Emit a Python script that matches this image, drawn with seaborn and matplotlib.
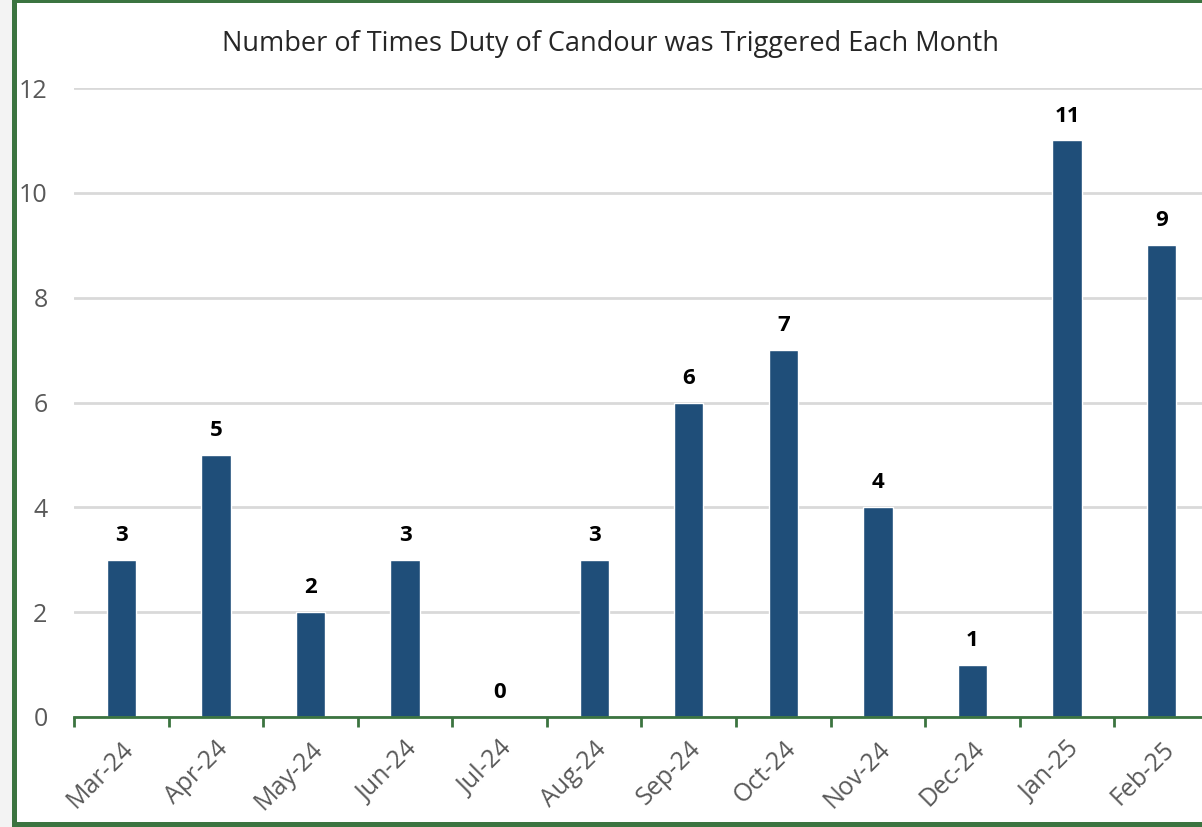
import matplotlib
matplotlib.use("Agg")
import matplotlib.pyplot as plt
import seaborn as sns
import pandas as pd
import numpy as np
from matplotlib.patches import Rectangle

months = ["Mar-24", "Apr-24", "May-24", "Jun-24", "Jul-24", "Aug-24",
          "Sep-24", "Oct-24", "Nov-24", "Dec-24", "Jan-25", "Feb-25"]
counts = [3, 5, 2, 3, 0, 3, 6, 7, 4, 1, 11, 9]
y_ticks = [0, 2, 4, 6, 8, 10, 12]

title = "Number of Times Duty of Candour was Triggered Each Month"

BAR = "#1f4e79"
GREEN = "#3b7440"
GRID = "#d9d9d9"
TICK_TXT = "#595959"

sns.set_theme(style="white")
plt.rcParams["font.family"] = ["Open Sans", "DejaVu Sans"]

df = pd.DataFrame({"month": months, "count": counts})

fig = plt.figure(figsize=(12.02, 8.27), dpi=100)
fig.patch.set_facecolor("white")

# page background strip and green frame
fig.patches.append(Rectangle((0, 0), 12 / 1202, 1, transform=fig.transFigure,
                             facecolor="#f3f3f3", edgecolor="none", zorder=0))
fig.patches.append(Rectangle((12 / 1202, 0), 5 / 1202, 1, transform=fig.transFigure,
                             facecolor=GREEN, edgecolor="none", zorder=1))
fig.patches.append(Rectangle((12 / 1202, 1 - 3 / 827), 1, 3 / 827, transform=fig.transFigure,
                             facecolor=GREEN, edgecolor="none", zorder=1))
fig.patches.append(Rectangle((12 / 1202, 0), 1, 5 / 827, transform=fig.transFigure,
                             facecolor=GREEN, edgecolor="none", zorder=1))

ax = fig.add_axes([74 / 1202, 1 - 717 / 827, (1209 - 74) / 1202, (717 - 88) / 827])
ax.set_facecolor("none")

sns.barplot(data=df, x="month", y="count", color=BAR, width=0.31,
            saturation=1, ax=ax, zorder=3)

ax.set_xlim(-0.5, len(months) - 0.5)
ax.set_ylim(0, 12)
ax.set_yticks(y_ticks)
ax.set_yticklabels([str(t) for t in y_ticks])
ax.yaxis.grid(True, color=GRID, linewidth=2, zorder=0)
ax.set_axisbelow(True)

for s in ["top", "right", "left"]:
    ax.spines[s].set_visible(False)
ax.spines["bottom"].set_color(GREEN)
ax.spines["bottom"].set_linewidth(2)
ax.spines["bottom"].set_zorder(4)

ax.set_xlabel("")
ax.set_ylabel("")

ax.tick_params(axis="y", length=0, pad=19, labelsize=18, labelcolor=TICK_TXT)
ax.tick_params(axis="x", which="major", length=0, pad=14, labelsize=18, labelcolor=TICK_TXT)
# category separators drawn as short green ticks below the axis line
ax.set_xticks(np.arange(-0.5, len(months), 1), minor=True)
ax.tick_params(axis="x", which="minor", bottom=True, length=7, width=2,
               color=GREEN, direction="out")
plt.setp(ax.get_xticklabels(), rotation=45, ha="right", rotation_mode="anchor")

for c in ax.containers:
    ax.bar_label(c, labels=[str(v) for v in counts], padding=10,
                 fontsize=16, fontweight="bold", color="black")

fig.text(611 / 1202, 1 - 44 / 827, title, ha="center", va="center",
         fontsize=19.5, color="#262626")

fig.savefig("out.png", dpi=100)
